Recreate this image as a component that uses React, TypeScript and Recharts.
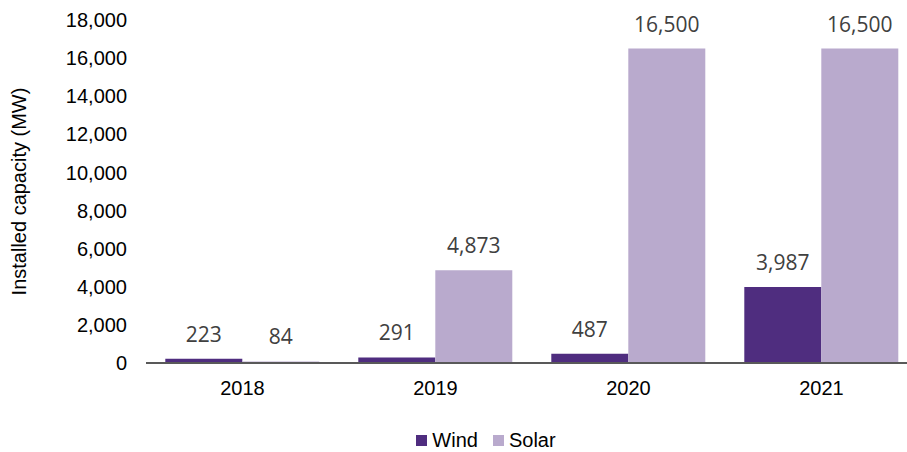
import React from 'react';
import { BarChart, Bar, XAxis, YAxis, Legend, LabelList } from 'recharts';

const years = ['2018', '2019', '2020', '2021'];
const wind = [223, 291, 487, 3987];
const solar = [84, 4873, 16500, 16500];
const yTicks = [0, 2000, 4000, 6000, 8000, 10000, 12000, 14000, 16000, 18000];
const seriesNames = ['Wind', 'Solar'];
const seriesColors = ['#4f2d7f', '#b9aacd'];

const data = years.map((year, i) => ({ year, Wind: wind[i], Solar: solar[i] }));

const fmt = (v: number) => v.toLocaleString('en-US');

const arial = '"Liberation Sans", Arial, sans-serif';
const labelStyle = { fill: '#404040', fontSize: 21, fontFamily: '"Open Sans", sans-serif' };

const LegendBox = () => (
  <div style={{ display: 'flex', justifyContent: 'center', alignItems: 'center', height: 24, fontFamily: arial, fontSize: 20, color: '#000' }}>
    {seriesNames.map((name, i) => (
      <div key={name} style={{ display: 'flex', alignItems: 'center', marginRight: i === 0 ? 15 : 0 }}>
        <span style={{ display: 'inline-block', width: 11, height: 11, background: seriesColors[i], marginRight: 5 }} />
        <span>{name}</span>
      </div>
    ))}
  </div>
);

export default function App() {
  return (
    <div style={{ position: 'absolute', left: 0, top: 0, width: 907, height: 452, overflow: 'hidden', background: '#fff' }}>
      <BarChart
        width={972}
        height={452}
        data={data}
        margin={{ top: 20, right: 54, bottom: 0, left: 0 }}
        barCategoryGap="10%"
        barGap={0}
      >
        <XAxis
          dataKey="year"
          axisLine={{ stroke: '#595959', strokeWidth: 2 }}
          tickLine={false}
          tickSize={0}
          tickMargin={18}
          height={65}
          tick={{ fill: '#000', fontSize: 20, fontFamily: arial }}
        />
        <YAxis
          domain={[0, 18000]}
          ticks={yTicks}
          tickFormatter={fmt}
          axisLine={false}
          tickLine={false}
          tickSize={0}
          tickMargin={19}
          width={146}
          interval={0}
          tick={{ fill: '#000', fontSize: 20, fontFamily: arial }}
          label={{
            value: 'Installed capacity (MW)',
            angle: -90,
            position: 'center',
            dx: -54,
            style: { fill: '#000', fontSize: 20, fontFamily: arial },
          }}
        />
        <Legend
          verticalAlign="bottom"
          height={24}
          content={<LegendBox />}
          wrapperStyle={{ left: 0, width: 972, top: 428, bottom: 'auto' }}
        />
        <Bar dataKey="Wind" fill={seriesColors[0]} isAnimationActive={false}>
          <LabelList dataKey="Wind" position="top" offset={17} formatter={fmt} style={labelStyle} />
        </Bar>
        <Bar dataKey="Solar" fill={seriesColors[1]} isAnimationActive={false}>
          <LabelList dataKey="Solar" position="top" offset={17} formatter={fmt} style={labelStyle} />
        </Bar>
      </BarChart>
    </div>
  );
}
